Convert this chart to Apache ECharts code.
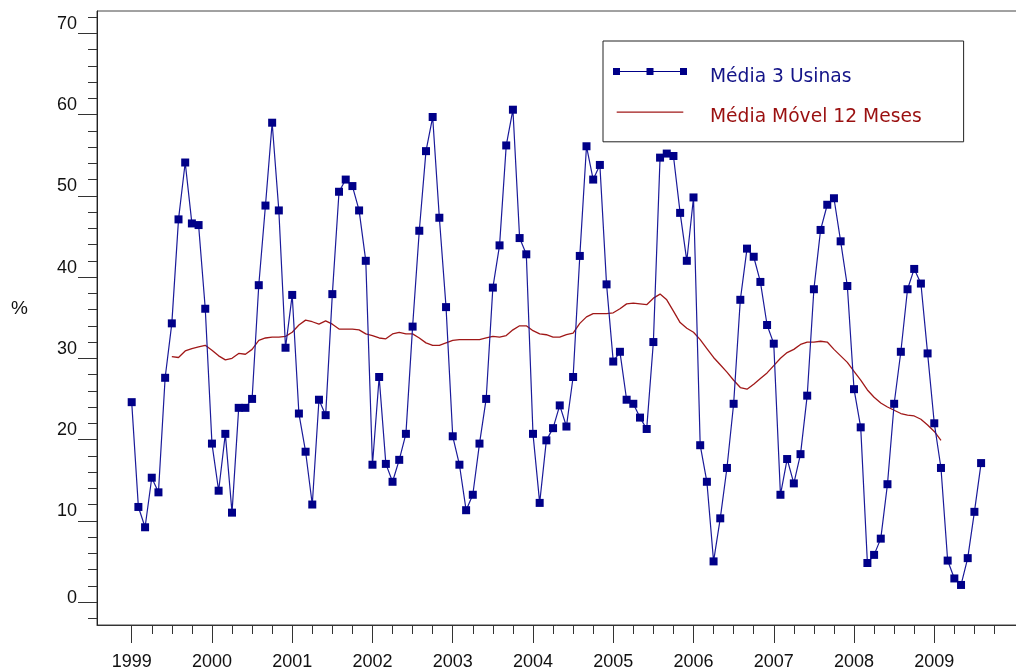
<!DOCTYPE html>
<html>
<head>
<meta charset="utf-8">
<script src="https://cdn.jsdelivr.net/npm/echarts@6/dist/echarts.min.js"></script>
<style>
  html, body { margin: 0; padding: 0; background: #ffffff; }
  #chart { width: 1016px; height: 669px; }
</style>
</head>
<body>
<div id="chart"></div>
<script>
// Monthly series, January 1999 .. August 2009 (%)
const firstYear = 1999;
const usinas = [
  24.6, 11.7,  9.2, 15.3, 13.5, 27.6, 34.3, 47.1, 54.1, 46.6, 46.4, 36.1, // 1999
  19.5, 13.7, 20.7, 11.0, 23.9, 23.9, 25.0, 39.0, 48.8, 59.0, 48.2, 31.3, // 2000
  37.8, 23.2, 18.5, 12.0, 24.9, 23.0, 37.9, 50.5, 52.0, 51.2, 48.2, 42.0, // 2001
  16.9, 27.7, 17.0, 14.8, 17.5, 20.7, 33.9, 45.7, 55.5, 59.7, 47.3, 36.3, // 2002
  20.4, 16.9, 11.3, 13.2, 19.5, 25.0, 38.7, 43.9, 56.2, 60.6, 44.8, 42.8, // 2003
  20.7, 12.2, 19.9, 21.4, 24.2, 21.6, 27.7, 42.6, 56.1, 52.0, 53.8, 39.1, // 2004
  29.6, 30.8, 24.9, 24.4, 22.7, 21.3, 32.0, 54.7, 55.2, 54.9, 47.9, 42.0, // 2005
  49.8, 19.3, 14.8,  5.0, 10.3, 16.5, 24.4, 37.2, 43.5, 42.5, 39.4, 34.1, // 2006
  31.8, 13.2, 17.6, 14.6, 18.2, 25.4, 38.5, 45.8, 48.9, 49.7, 44.4, 38.9, // 2007
  26.2, 21.5,  4.8,  5.8,  7.8, 14.5, 24.4, 30.8, 38.5, 41.0, 39.2, 30.6, // 2008
  22.0, 16.5,  5.1,  2.9,  2.1,  5.4, 11.1, 17.1                          // 2009
];

// 12-month moving average, July 1999 .. February 2009
const mediaMovelStart = 6; // month index of the first value (July 1999)
const mediaMovel = [
                                  30.2, 30.1, 30.9, 31.2, 31.4, 31.6, // 1999
  31.0, 30.3, 29.8, 30.0, 30.6, 30.5, 31.1, 32.2, 32.5, 32.6, 32.6, 32.7, // 2000
  33.2, 34.1, 34.7, 34.5, 34.2, 34.6, 34.2, 33.6, 33.6, 33.6, 33.5, 33.0, // 2001
  32.8, 32.5, 32.4, 33.0, 33.2, 33.0, 33.0, 32.5, 31.9, 31.6, 31.6, 31.9, // 2002
  32.2, 32.3, 32.3, 32.3, 32.3, 32.5, 32.7, 32.6, 32.8, 33.5, 34.0, 34.0, // 2003
  33.4, 33.0, 32.9, 32.6, 32.6, 32.9, 33.1, 34.3, 35.1, 35.5, 35.5, 35.5, // 2004
  35.6, 36.1, 36.7, 36.8, 36.7, 36.6, 37.4, 37.9, 37.2, 35.8, 34.4, 33.7, // 2005
  33.2, 32.3, 31.2, 30.1, 29.2, 28.3, 27.3, 26.4, 26.2, 26.8, 27.5, 28.2, // 2006
  29.1, 30.0, 30.7, 31.1, 31.7, 32.0, 32.0, 32.1, 32.0, 31.1, 30.3, 29.5, // 2007
  28.4, 27.3, 26.1, 25.2, 24.5, 24.0, 23.6, 23.2, 23.0, 22.9, 22.5, 21.8, // 2008
  21.0, 19.9                                                              // 2009
];

// Axis ticks and labels
const yearTicks = [1999, 2000, 2001, 2002, 2003, 2004, 2005, 2006, 2007, 2008, 2009];
const quarterTicks = [];
for (let q = 0; q < 44; q++) quarterTicks.push(1999 + q / 4);
const yMajorTicks = [0, 10, 20, 30, 40, 50, 60, 70];
const yMinorTicks = [];
for (let v = -2; v <= 72; v += 2) yMinorTicks.push(v);

const nomeUsinas = 'Média 3 Usinas';
const nomeMovel = 'Média Móvel 12 Meses';

// month index -> decimal year on the time axis
const monthX = i => firstYear + i / 12;
const pontosUsinas = usinas.map((v, i) => [monthX(i), v]);
const pontosMovel = mediaMovel.map((v, i) => [monthX(i + mediaMovelStart), v]);

const X_MIN = 1998.5677, X_MAX = 2010.392;
const Y_MIN = -2.83, Y_MAX = 72.75;

const fontEixo = '"Liberation Sans", Arial, sans-serif';
const axisFont = { fontFamily: fontEixo, fontSize: 18, color: '#111111' };

const chart = echarts.init(document.getElementById('chart'), null, { renderer: 'canvas' });

chart.setOption({
  animation: false,
  backgroundColor: '#ffffff',
  grid: {
    left: 97, right: -30, top: 11, bottom: 44,
    containLabel: false,
    outerBoundsMode: 'none',
    show: true,
    borderColor: '#444444',
    borderWidth: 1
  },
  legend: {
    orient: 'vertical',
    left: 603,
    top: 41,
    padding: [25.5, 42, 14, 10],
    itemGap: 17.3,
    itemWidth: 92,
    itemHeight: 19,
    backgroundColor: '#ffffff',
    borderColor: '#222222',
    borderWidth: 1,
    borderRadius: 0,
    selectedMode: false,
    itemStyle: { borderWidth: 0 },
    textStyle: { fontFamily: '"DejaVu Sans", Verdana, sans-serif', fontSize: 18.7, lineHeight: 22 },
    data: [
      {
        // three markers joined by a line, sitting a little above the text centre;
        // the trailing moves keep room before the text
        name: nomeUsinas,
        icon: 'path://M0,0h7v7h-7z M33.5,0h7v7h-7z M67,0h7v7h-7z M7,3h26.5v1.1h-26.5z M40.5,3h26.5v1.1h-26.5z M92,19',
        textStyle: { color: '#141488' }
      },
      {
        name: nomeMovel,
        icon: 'path://M0,0 M3.7,4.15h66.6v1.3h-66.6z M92,19',
        textStyle: { color: '#9a1010' }
      }
    ]
  },
  xAxis: [
    {
      type: 'value',
      min: X_MIN, max: X_MAX,
      position: 'bottom',
      splitLine: { show: false },
      axisLine: { show: true, onZero: false, lineStyle: { color: '#333333', width: 1 } },
      axisTick: { show: true, customValues: yearTicks, length: 18, lineStyle: { color: '#333333', width: 1 } },
      axisLabel: Object.assign({ customValues: yearTicks, margin: 28, formatter: v => String(Math.round(v)) }, axisFont)
    },
    {
      type: 'value',
      min: X_MIN, max: X_MAX,
      position: 'bottom',
      splitLine: { show: false },
      axisLine: { show: false, onZero: false },
      axisTick: { show: true, customValues: quarterTicks, length: 9, lineStyle: { color: '#333333', width: 1 } },
      axisLabel: { show: false }
    }
  ],
  yAxis: [
    {
      type: 'value',
      min: Y_MIN, max: Y_MAX,
      position: 'left',
      splitLine: { show: false },
      axisLine: { show: true, onZero: false, lineStyle: { color: '#222222', width: 1 } },
      axisTick: { show: true, customValues: yMajorTicks, length: 19, lineStyle: { color: '#333333', width: 1 } },
      axisLabel: Object.assign({
        customValues: yMajorTicks,
        margin: 20,
        verticalAlign: 'bottom',
        lineHeight: 19,
        // the zero label sits closer to its tick than the others
        formatter: v => (Math.round(v) === 0 ? '{zero|0}' : String(Math.round(v))),
        rich: { zero: { fontFamily: fontEixo, fontSize: 18, color: '#111111', lineHeight: 8 } }
      }, axisFont),
      name: '%',
      nameLocation: 'middle',
      nameRotate: 0,
      nameGap: 69,
      nameTextStyle: { fontFamily: fontEixo, fontSize: 19, color: '#111111', verticalAlign: 'bottom', align: 'right' }
    },
    {
      type: 'value',
      min: Y_MIN, max: Y_MAX,
      position: 'left',
      splitLine: { show: false },
      axisLine: { show: false, onZero: false },
      axisTick: { show: true, customValues: yMinorTicks, length: 9, lineStyle: { color: '#333333', width: 1 } },
      axisLabel: { show: false }
    }
  ],
  series: [
    {
      name: nomeMovel,
      type: 'line',
      xAxisIndex: 0, yAxisIndex: 0,
      data: pontosMovel,
      symbol: 'none',
      smooth: false,
      z: 2,
      itemStyle: { color: '#a01818' },
      lineStyle: { color: '#a01818', width: 1.3 }
    },
    {
      name: nomeUsinas,
      type: 'line',
      xAxisIndex: 0, yAxisIndex: 0,
      data: pontosUsinas,
      symbol: 'rect',
      symbolSize: 8,
      showAllSymbol: true,
      z: 3,
      itemStyle: { color: '#000088', borderWidth: 0 },
      lineStyle: { color: '#1a1a9a', width: 1.2 }
    }
  ]
});
</script>
</body>
</html>
